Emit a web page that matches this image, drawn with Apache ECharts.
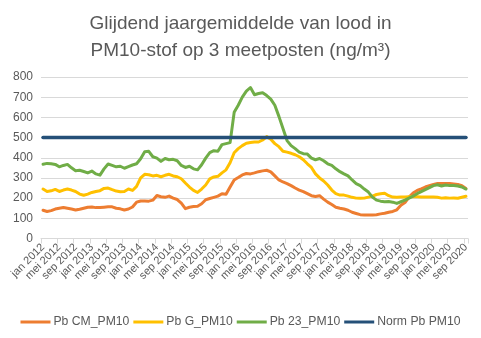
<!DOCTYPE html>
<html>
<head>
<meta charset="utf-8">
<script src="https://cdn.jsdelivr.net/npm/echarts@6/dist/echarts.min.js"></script>
<style>
html,body{margin:0;padding:0;background:#fff;}
#chart{width:481px;height:338px;}
</style>
</head>
<body>
<div id="chart"></div>
<script>
var monthNames = ['jan','feb','mrt','apr','mei','jun','jul','aug','sep','okt','nov','dec'];
var years = [2012,2013,2014,2015,2016,2017,2018,2019,2020];
var lastMonthIndex2020 = 8; // sep 2020

var pbCM = [140,134,138,146,150,154,150,146,141,145,150,155,156,153,153,155,157,157,150,147,141,146,156,180,186,186,185,190,213,207,204,210,200,193,175,148,155,158,160,172,192,198,204,210,222,219,255,290,302,315,322,320,325,331,335,338,330,310,290,280,272,262,250,240,232,222,212,208,212,195,180,168,155,150,146,140,130,124,118,116,116,117,118,122,125,130,134,142,165,178,205,225,238,246,255,262,268,272,273,273,272,270,268,262,248];
var pbG = [245,233,236,243,233,240,245,240,233,220,214,220,228,233,237,248,250,242,235,232,233,245,238,258,300,318,316,310,313,306,313,318,310,306,296,275,255,238,228,245,265,295,305,308,325,340,375,425,445,460,472,476,478,478,488,505,492,470,455,432,428,422,415,405,390,370,352,320,300,285,265,240,222,215,215,210,204,200,199,200,205,210,218,222,224,212,205,204,205,206,207,208,207,206,206,206,205,204,200,202,200,201,199,204,209];
var pb23 = [368,372,370,367,355,362,367,350,336,338,332,325,334,320,314,345,369,362,355,358,348,356,364,370,395,430,432,405,398,382,396,390,392,385,362,352,358,345,340,365,398,425,435,432,465,470,475,625,660,700,730,748,712,718,722,708,690,660,605,545,485,460,445,428,420,418,398,390,396,385,370,362,345,331,320,310,290,272,262,245,230,205,190,185,182,183,180,174,182,190,200,210,222,232,242,252,262,266,260,265,262,262,260,255,245];
var normValue = 500;
var yTicks = [0,100,200,300,400,500,600,700,800];

var categories = [];
years.forEach(function(y){
  monthNames.forEach(function(m, i){
    if (y === 2020 && i > lastMonthIndex2020) return;
    categories.push(m + ' ' + y);
  });
});
var norm = categories.map(function(){ return normValue; });

var chart = echarts.init(document.getElementById('chart'));
var font = '"Liberation Sans", Arial, sans-serif';
function line(name, data, color, width){
  return {name:name, type:'line', data:data, symbol:'none', smooth:false,
    lineStyle:{color:color, width:width, cap:'round', join:'round'}, itemStyle:{color:color}, silent:true, animation:false};
}
chart.setOption({
  animation:false,
  title:{
    text:'Glijdend jaargemiddelde van lood in\nPM10-stof op 3 meetposten (ng/m³)',
    left:'center', top:5,
    textStyle:{fontFamily:font, fontSize:19, fontWeight:'normal', color:'#595959', lineHeight:27}
  },
  legend:{
    bottom:5, left:'center', icon:'rect', itemWidth:30, itemHeight:3, itemGap:4,
    textStyle:{fontFamily:font, fontSize:12.2, color:'#595959', padding:[0,0,0,-2]},
    data:['Pb CM_PM10','Pb G_PM10','Pb 23_PM10','Norm Pb PM10']
  },
  grid:{left:41, right:13, top:77, bottom:99.5, containLabel:false},
  xAxis:{
    type:'category', data:categories, boundaryGap:true,
    axisLine:{lineStyle:{color:'#d9d9d9', width:1}},
    axisTick:{show:true, interval:3, length:5, lineStyle:{color:'#d9d9d9'}},
    axisLabel:{interval:3, rotate:45, fontFamily:font, fontSize:11, color:'#595959', margin:7,
      showMinLabel:true, showMaxLabel:true, hideOverlap:false},
    splitLine:{show:false}
  },
  yAxis:{
    type:'value', min:yTicks[0], max:yTicks[yTicks.length-1], interval:100,
    axisLine:{show:false}, axisTick:{show:false},
    axisLabel:{fontFamily:font, fontSize:12, color:'#595959', margin:8},
    splitLine:{lineStyle:{color:'#d9d9d9', width:1}}
  },
  series:[
    line('Pb CM_PM10', pbCM, '#ED7D31', 3),
    line('Pb G_PM10', pbG, '#FFC000', 3),
    line('Pb 23_PM10', pb23, '#70AD47', 3),
    line('Norm Pb PM10', norm, '#255078', 3.5)
  ]
});
</script>
</body>
</html>
